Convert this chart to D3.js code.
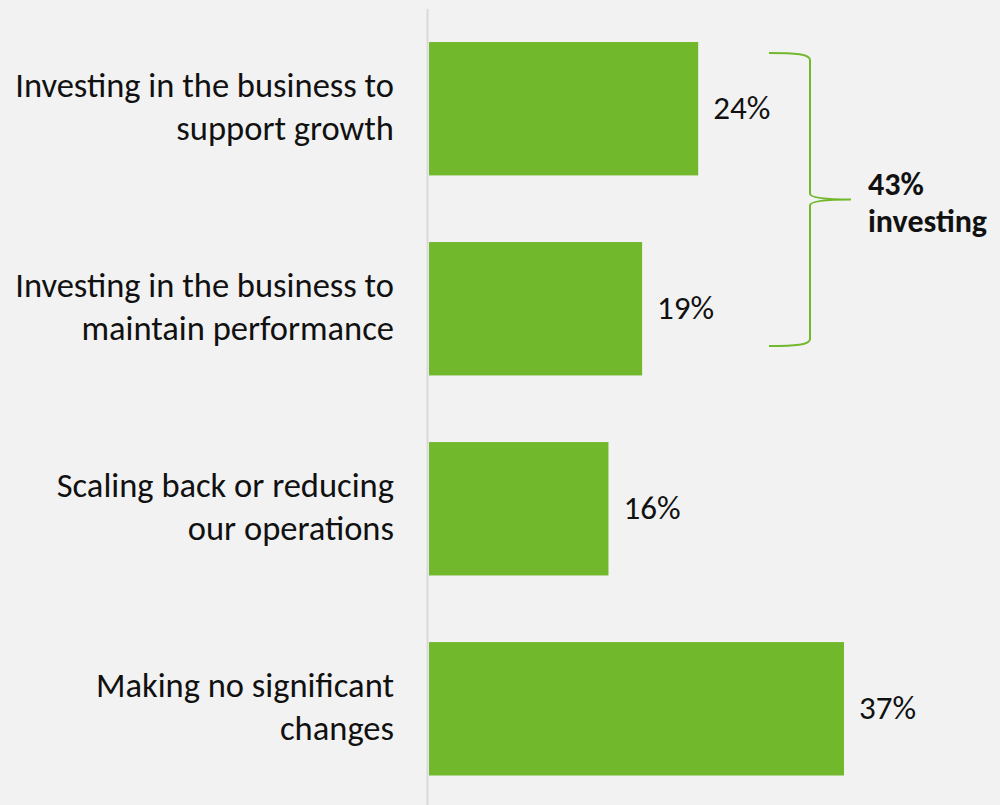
<!DOCTYPE html>
<html>
<head>
<meta charset="utf-8">
<script src="https://cdn.jsdelivr.net/npm/d3@7"></script>
<style>
  html, body { margin: 0; padding: 0; background: #f2f2f2; }
  svg { display: block; }
  text { font-family: Carlito, Lato, "Open Sans", sans-serif; fill: #111; }
</style>
</head>
<body>
<svg id="chart" width="1000" height="805"></svg>
<script>
// Survey responses: what the business is doing
const categories = [
  ["Investing in the business to", "support growth"],
  ["Investing in the business to", "maintain performance"],
  ["Scaling back or reducing", "our operations"],
  ["Making no significant", "changes"]
];
const values = [24, 19, 16, 37];
const valueLabels = ["24%", "19%", "16%", "37%"];
const braceLabel = ["43%", "investing"];

const svg = d3.select("#chart");
const W = 1000, H = 805;

svg.append("rect").attr("width", W).attr("height", H).attr("fill", "#f2f2f2");

// pick a font size so a sample string occupies the wanted width
function fitSize(sample, width, weight) {
  const probe = svg.append("text")
    .attr("font-size", 30)
    .attr("font-weight", weight || "normal")
    .text(sample);
  const w = probe.node().getComputedTextLength();
  probe.remove();
  return 30 * width / w;
}
const catSize = Math.min(fitSize("Investing in the business to", 380), 34.5);
const valSize = Math.min(fitSize("24%", 58), 33);
const boldSize = Math.min(fitSize("investing", 127, "bold"), 32);

const keys = categories.map(c => c.join(" "));

const y = d3.scaleBand()
  .domain(keys)
  .range([42, 775.5])
  .paddingInner(0.333)
  .paddingOuter(0);

const x = d3.scaleLinear()
  .domain([0, 37])
  .range([429, 844]);

// baseline axis
svg.append("line")
  .attr("x1", 427.5).attr("x2", 427.5)
  .attr("y1", 9).attr("y2", H)
  .attr("stroke", "#d9d9d9")
  .attr("stroke-width", 2);

const green = "#72b82d";

// bars
svg.selectAll("rect.bar")
  .data(values)
  .join("rect")
  .attr("class", "bar")
  .attr("x", x(0))
  .attr("y", (d, i) => y(keys[i]))
  .attr("width", d => x(d) - x(0))
  .attr("height", y.bandwidth())
  .attr("fill", green);

// value labels
svg.selectAll("text.val")
  .data(values)
  .join("text")
  .attr("class", "val")
  .attr("x", d => x(d) + 15)
  .attr("y", (d, i) => y(keys[i]) + y.bandwidth() / 2 + 10.5)
  .attr("font-size", valSize)
  .text((d, i) => valueLabels[i]);

// category labels (two lines, right aligned)
const lab = svg.selectAll("text.cat")
  .data(categories)
  .join("text")
  .attr("class", "cat")
  .attr("text-anchor", "end")
  .attr("font-size", catSize);
lab.each(function (lines, i) {
  const t = d3.select(this);
  const cy = y(keys[i]) + y.bandwidth() / 2;
  lines.forEach((line, j) => {
    t.append("tspan")
      .attr("x", 394)
      .attr("y", cy - 12 + j * 43.5)
      .text(line);
  });
});

// brace spanning the two "investing" bars
const braceTop = y(keys[0]) + 11;
const braceBot = y(keys[1]) + y.bandwidth() - 29.5;
const braceMid = (braceTop + braceBot) / 2;
const bx0 = 769, bx1 = 810, bx2 = 851;
const p = d3.path();
p.moveTo(bx0, braceTop);
p.bezierCurveTo(795, braceTop, bx1, braceTop + 1, bx1, braceTop + 7);
p.lineTo(bx1, braceMid - 6);
p.quadraticCurveTo(bx1, braceMid, bx2, braceMid);
p.quadraticCurveTo(bx1, braceMid, bx1, braceMid + 6);
p.lineTo(bx1, braceBot - 7);
p.bezierCurveTo(bx1, braceBot - 1, 795, braceBot, bx0, braceBot);
svg.append("path")
  .attr("d", p.toString())
  .attr("fill", "none")
  .attr("stroke", green)
  .attr("stroke-width", 2);

svg.append("text")
  .attr("font-size", boldSize)
  .attr("font-weight", "bold")
  .selectAll("tspan")
  .data(braceLabel)
  .join("tspan")
  .attr("x", 868)
  .attr("y", (d, j) => braceMid - 4.5 + j * 36.7)
  .text(d => d);
</script>
</body>
</html>
